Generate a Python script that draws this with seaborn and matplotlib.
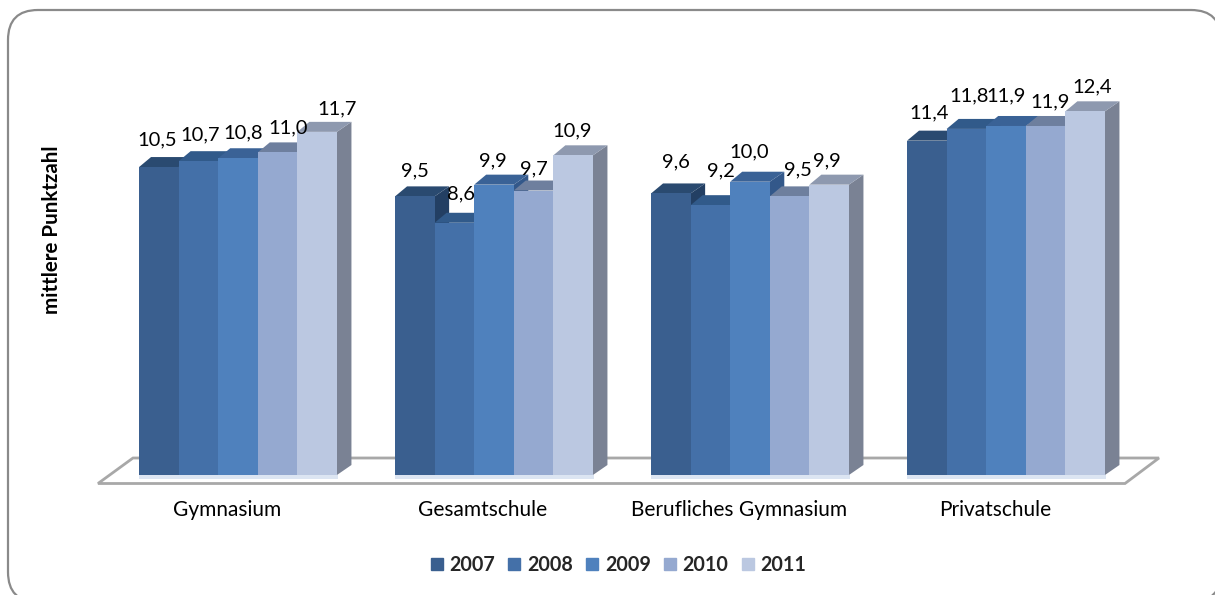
import matplotlib
matplotlib.use('Agg')
import matplotlib.pyplot as plt
import matplotlib.transforms as mtrans
from matplotlib.patches import FancyBboxPatch, Polygon
from matplotlib.lines import Line2D
import numpy as np
import pandas as pd
import seaborn as sns

schools = ['Gymnasium', 'Gesamtschule', 'Berufliches Gymnasium', 'Privatschule']
years = ['2007', '2008', '2009', '2010', '2011']
v2007 = [10.5, 9.5, 9.6, 11.4]
v2008 = [10.7, 8.6, 9.2, 11.8]
v2009 = [10.8, 9.9, 10.0, 11.9]
v2010 = [11.0, 9.7, 9.5, 11.9]
v2011 = [11.7, 10.9, 9.9, 12.4]

colors = ['#3A5F8F', '#4470A8', '#4F81BD', '#95A9D0', '#BBC8E1']
tops = ['#2A4A70', '#315A8A', '#3A6296', '#6E7F9E', '#8E99AF']
sides = ['#233F63', '#2B4F7A', '#33588A', '#5F6E88', '#7A8294']

# label shift from the bar centre in pixels, one row per year
nudge_x = [[-2, 0, 5, 2], [2, 7, 11, 3], [5, -1, -1, 0], [11, 0, 8, 4], [20, -1, -2, 7]]
nudge_y = [[27, 26, 32, 28], [26, 29, 34, 33], [25, 24, 30, 30], [25, 22, 27, 24], [23, 24, 24, 24]]

W, H = 1215, 595
sns.set_theme(style='white')
plt.rcParams['font.family'] = ['Lato', 'DejaVu Sans']

df = pd.DataFrame({'school': schools * 5,
                   'year': np.repeat(years, 4),
                   'value': v2007 + v2008 + v2009 + v2010 + v2011})

fig = plt.figure(figsize=(W / 100, H / 100), dpi=100)
ax = fig.add_axes([110 / W, 1 - 475 / H, 1024 / W, (475 - 64.4) / H])
ax.patch.set_visible(False)

sns.barplot(data=df, x='school', y='value', hue='year', order=schools, hue_order=years,
            palette=colors, width=0.773, gap=0, saturation=1, errorbar=None, ax=ax, legend=False,
            edgecolor='none', linewidth=0)
ax.set_xlim(-0.5, 3.5)
ax.set_ylim(0, 14)

# pixels to data units, for the fake 3d depth
px_x = 4 / 1024
px_y = 14 / (475 - 64.4)
dx_l, dx_r, dy = 12 * px_x, 14.5 * px_x, 10 * px_y

# pixel coords for frame and floor
px = mtrans.Affine2D().scale(1 / W, -1 / H).translate(0, 1) + fig.transFigure

fig.add_artist(FancyBboxPatch((8, 10), 1213, 592, boxstyle='round,pad=0,rounding_size=30',
                              fc='white', ec='#8a8a8a', lw=1.6, transform=px, zorder=-3))
fig.add_artist(Polygon([(98, 483.5), (1125, 483.5), (1159, 458), (133, 458)], closed=True, fc='white',
                       ec='#a8a8a8', lw=2, transform=px, zorder=-2))

# draw left to right so each front hides the side of the bar before it
bars = []
for i, cont in enumerate(ax.containers):
    for j, p in enumerate(cont.patches):
        bars.append((p.get_x(), i, j, p))
z = 3
for x0, i, j, p in sorted(bars, key=lambda b: (b[0], b[1])):
    w, h = p.get_width(), p.get_height()
    x1 = x0 + w
    ax.add_patch(Polygon([(x0, -3.5 * px_y), (x1 + 1 * px_x, -3.5 * px_y), (x1 + 1 * px_x, 0), (x0, 0)],
                         fc='#DCE5F2', ec='none', zorder=2, clip_on=False))
    ax.add_patch(Polygon([(x1, 0), (x1 + dx_r, dy), (x1 + dx_r, h + dy), (x1, h)],
                         fc=sides[i], ec='none', zorder=z, clip_on=False))
    ax.add_patch(Polygon([(x0, h), (x0 + dx_l, h + dy), (x1 + dx_r, h + dy), (x1, h)],
                         fc=tops[i], ec='none', zorder=z + 1, clip_on=False))
    p.set_zorder(z + 2)
    ax.annotate(f'{h:.1f}'.replace('.', ','), (x0 + w / 2, h),
                xytext=(nudge_x[i][j], nudge_y[i][j]), textcoords='offset pixels',
                ha='center', va='center', fontsize=14.5, color='black', zorder=500,
                annotation_clip=False)
    z += 3

sns.despine(ax=ax, left=True, bottom=True)
ax.set_yticks([])
ax.set_xlabel('')
ax.set_ylabel('mittlere Punktzahl', fontsize=14.8, fontweight='bold', color='black')
ax.yaxis.set_label_coords((62 - 110) / 1024, (475 - 230) / (475 - 64.4))
ax.set_xticks(range(len(schools)))
ax.set_xticklabels(schools, fontsize=15, color='black')
ax.tick_params(axis='x', length=0, pad=18)
shift = mtrans.ScaledTranslation(-11 / 100, 0, fig.dpi_scale_trans)
for lab in ax.get_xticklabels():
    lab.set_transform(lab.get_transform() + shift)

handles = [Line2D([], [], ls='', marker='s', ms=8.5, color=c) for c in colors]
fig.legend(handles, years, loc='center', bbox_to_anchor=(618 / W, 1 - 565 / H), ncol=5, frameon=False,
           prop={'size': 14.2, 'weight': 'bold'}, handlelength=0.7, handletextpad=0.3, columnspacing=0.62)

fig.savefig('out.png', dpi=100)
